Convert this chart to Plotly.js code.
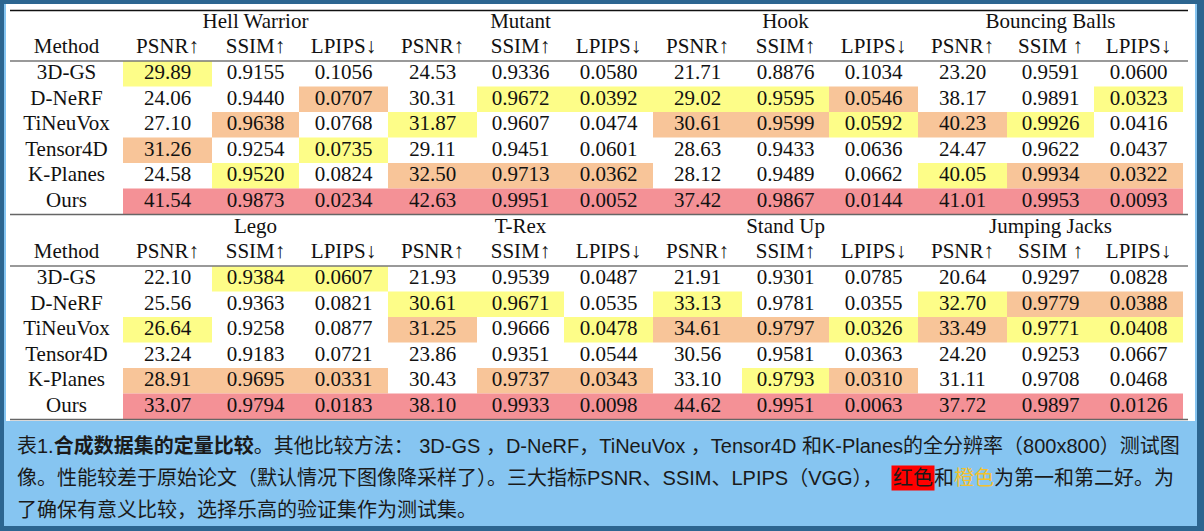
<!DOCTYPE html>
<html><head><meta charset="utf-8">
<script src="https://cdn.plot.ly/plotly-3.0.1.min.js"></script>
<style>html,body{margin:0;padding:0;background:#fff;} #chart{width:1204px;height:531px;}</style>
</head><body><div id="chart"></div>
<script>
// ---------- DATA ----------
const methods = ["3D-GS", "D-NeRF", "TiNeuVox", "Tensor4D", "K-Planes", "Ours"];
const scenesTop = ["Hell Warrior", "Mutant", "Hook", "Bouncing Balls"];
const scenesBottom = ["Lego", "T-Rex", "Stand Up", "Jumping Jacks"];
const headerTop = ["PSNR↑","SSIM↑","LPIPS↓","PSNR↑","SSIM↑","LPIPS↓","PSNR↑","SSIM↑","LPIPS↓","PSNR↑","SSIM ↑","LPIPS↓"];
const headerBottom = ["PSNR↑","SSIM↑","LPIPS↓","PSNR↑","SSIM↑","LPIPS↓","PSNR↑","SSIM↑","LPIPS↓","PSNR↑","SSIM ↑","LPIPS↓"];
const metricDecimals = [2, 4, 4];
const metricHigherBetter = [true, true, false];

const hellWarriorPSNR  = [29.89, 24.06, 27.10, 31.26, 24.58, 41.54];
const hellWarriorSSIM  = [0.9155, 0.9440, 0.9638, 0.9254, 0.9520, 0.9873];
const hellWarriorLPIPS = [0.1056, 0.0707, 0.0768, 0.0735, 0.0824, 0.0234];
const mutantPSNR  = [24.53, 30.31, 31.87, 29.11, 32.50, 42.63];
const mutantSSIM  = [0.9336, 0.9672, 0.9607, 0.9451, 0.9713, 0.9951];
const mutantLPIPS = [0.0580, 0.0392, 0.0474, 0.0601, 0.0362, 0.0052];
const hookPSNR  = [21.71, 29.02, 30.61, 28.63, 28.12, 37.42];
const hookSSIM  = [0.8876, 0.9595, 0.9599, 0.9433, 0.9489, 0.9867];
const hookLPIPS = [0.1034, 0.0546, 0.0592, 0.0636, 0.0662, 0.0144];
const ballsPSNR  = [23.20, 38.17, 40.23, 24.47, 40.05, 41.01];
const ballsSSIM  = [0.9591, 0.9891, 0.9926, 0.9622, 0.9934, 0.9953];
const ballsLPIPS = [0.0600, 0.0323, 0.0416, 0.0437, 0.0322, 0.0093];
const legoPSNR  = [22.10, 25.56, 26.64, 23.24, 28.91, 33.07];
const legoSSIM  = [0.9384, 0.9363, 0.9258, 0.9183, 0.9695, 0.9794];
const legoLPIPS = [0.0607, 0.0821, 0.0877, 0.0721, 0.0331, 0.0183];
const trexPSNR  = [21.93, 30.61, 31.25, 23.86, 30.43, 38.10];
const trexSSIM  = [0.9539, 0.9671, 0.9666, 0.9351, 0.9737, 0.9933];
const trexLPIPS = [0.0487, 0.0535, 0.0478, 0.0544, 0.0343, 0.0098];
const standUpPSNR  = [21.91, 33.13, 34.61, 30.56, 33.10, 44.62];
const standUpSSIM  = [0.9301, 0.9781, 0.9797, 0.9581, 0.9793, 0.9951];
const standUpLPIPS = [0.0785, 0.0355, 0.0326, 0.0363, 0.0310, 0.0063];
const jumpingPSNR  = [20.64, 32.70, 33.49, 24.20, 31.11, 37.72];
const jumpingSSIM  = [0.9297, 0.9779, 0.9771, 0.9253, 0.9708, 0.9897];
const jumpingLPIPS = [0.0828, 0.0388, 0.0408, 0.0667, 0.0468, 0.0126];

const columnsTop = [hellWarriorPSNR, hellWarriorSSIM, hellWarriorLPIPS, mutantPSNR, mutantSSIM, mutantLPIPS,
                    hookPSNR, hookSSIM, hookLPIPS, ballsPSNR, ballsSSIM, ballsLPIPS];
const columnsBottom = [legoPSNR, legoSSIM, legoLPIPS, trexPSNR, trexSSIM, trexLPIPS,
                       standUpPSNR, standUpSSIM, standUpLPIPS, jumpingPSNR, jumpingSSIM, jumpingLPIPS];

// ---------- STYLE / LAYOUT CONSTANTS ----------
const W = 1204, H = 531;
const rankColors = ["#f49196", "#f8c599", "#fdfd88"]; // 1st, 2nd, 3rd
const serif = "'Liberation Serif', 'Times New Roman', serif";
const capFont = "'Liberation Sans', 'Noto Sans CJK SC', sans-serif";
const TABLE_L = 10, METHOD_R = 123, TABLE_R = 1188, GROUP_W = 265;
const colOffsets = [0, 89, 176, 265];
const ROW_H = 25.5;
const blockTops = [10, 215];

function colEdges(c) {
  const g = Math.floor(c / 3), k = c % 3;
  const base = METHOD_R + g * GROUP_W;
  return [base + colOffsets[k], base + colOffsets[k + 1]];
}
function ranks(arr, higher) {
  const idx = arr.map((v, i) => i).sort((a, b) => higher ? arr[b] - arr[a] : arr[a] - arr[b]);
  const r = new Array(arr.length).fill(-1);
  idx.forEach((i, pos) => { r[i] = pos; });
  return r;
}

const shapes = [];
const traces = [];
// frame
shapes.push({type:'rect', xref:'x', yref:'y', x0:4, x1:1197, y0:4, y1:526, fillcolor:'#86c5f1', line:{width:0}, layer:'below'});
shapes.push({type:'rect', xref:'x', yref:'y', x0:6, x1:1195, y0:4, y1:421, fillcolor:'#ffffff', line:{width:0}, layer:'below'});

function buildBlock(b, scenes, header, columns) {
  const top = blockTops[b];
  const dataTop = top + 51;
  // cell fills
  columns.forEach((col, c) => {
    const m = c % 3;
    const r = ranks(col, metricHigherBetter[m]);
    const [x0, x1] = colEdges(c);
    col.forEach((v, i) => {
      if (r[i] < 3) {
        shapes.push({type:'rect', xref:'x', yref:'y', x0:x0, x1:x1,
          y0:dataTop + i * ROW_H, y1:dataTop + (i + 1) * ROW_H,
          fillcolor: rankColors[r[i]], line:{width:0}, layer:'below'});
      }
    });
  });
  // rules
  if (b === 0) shapes.push({type:'line', xref:'x', yref:'y', x0:TABLE_L, x1:TABLE_R, y0:top + 0.5, y1:top + 0.5, line:{color:'#111', width:1.3}});
  shapes.push({type:'line', xref:'x', yref:'y', x0:TABLE_L, x1:TABLE_R, y0:dataTop, y1:dataTop, line:{color:'#777', width:1.5}});
  shapes.push({type:'line', xref:'x', yref:'y', x0:TABLE_L, x1:TABLE_R, y0:dataTop + 6 * ROW_H + 0.5, y1:dataTop + 6 * ROW_H + 0.5, line:{color:'#666', width:1.5}});

  // group titles
  traces.push({type:'scatter', mode:'text', x: scenes.map((s, g) => METHOD_R + g * GROUP_W + GROUP_W / 2),
    y: scenes.map(() => top + 12.5), text: scenes, textposition:'middle center',
    textfont:{family:serif, size:21, color:'#111'}, hoverinfo:'skip', cliponaxis:false});
  // header
  const hx = [(TABLE_L + METHOD_R) / 2].concat(header.map((h, c) => { const e = colEdges(c); return (e[0] + e[1]) / 2; }));
  traces.push({type:'scatter', mode:'text', x: hx, y: hx.map(() => top + 37.8), text: ["Method"].concat(header),
    textposition:'middle center', textfont:{family:serif, size:21, color:'#111'}, hoverinfo:'skip', cliponaxis:false});
  // method names
  traces.push({type:'scatter', mode:'text', x: methods.map(() => (TABLE_L + METHOD_R) / 2),
    y: methods.map((m, i) => dataTop + (i + 0.5) * ROW_H), text: methods,
    textposition:'middle center', textfont:{family:serif, size:21, color:'#111'}, hoverinfo:'skip', cliponaxis:false});
  // values
  const vx = [], vy = [], vt = [];
  columns.forEach((col, c) => {
    const e = colEdges(c);
    col.forEach((v, i) => {
      vx.push((e[0] + e[1]) / 2);
      vy.push(dataTop + (i + 0.5) * ROW_H);
      vt.push(v.toFixed(metricDecimals[c % 3]));
    });
  });
  traces.push({type:'scatter', mode:'text', x: vx, y: vy, text: vt, textposition:'middle center',
    textfont:{family:serif, size:21, color:'#111'}, hoverinfo:'skip', cliponaxis:false});
}
buildBlock(0, scenesTop, headerTop, columnsTop);
buildBlock(1, scenesBottom, headerBottom, columnsBottom);

const capColor = '#1a1a1a';
const annotations = [
  {xref:'x', yref:'y', x:15, y:445, xanchor:'left', yanchor:'middle', showarrow:false,
   text:"表1.<b>合成数据集的定量比较</b>。其他比较方法： 3D-GS ，D-NeRF，TiNeuVox ，Tensor4D 和K-Planes的全分辨率（800x800）测试图",
   font:{family:capFont, size:20, color:capColor}},
  {xref:'x', yref:'y', x:15, y:478, xanchor:'left', yanchor:'middle', showarrow:false,
   text:"像。性能较差于原始论文（默认情况下图像降采样了）。三大指标PSNR、SSIM、LPIPS（VGG），",
   font:{family:capFont, size:20, color:capColor}},
  {xref:'x', yref:'y', x:891, y:478, xanchor:'left', yanchor:'middle', showarrow:false,
   text:"红色", bgcolor:'#ff0000', borderpad:1,
   font:{family:capFont, size:20, color:capColor}},
  {xref:'x', yref:'y', x:932, y:478, xanchor:'left', yanchor:'middle', showarrow:false,
   text:"和<span style='color:#f2c12e'>橙色</span>为第一和第二好。为",
   font:{family:capFont, size:20, color:capColor}},
  {xref:'x', yref:'y', x:15, y:510, xanchor:'left', yanchor:'middle', showarrow:false,
   text:"了确保有意义比较，选择乐高的验证集作为测试集。",
   font:{family:capFont, size:20, color:capColor}}
];

const layout = {
  width: W, height: H, margin:{l:0, r:0, t:0, b:0, pad:0},
  paper_bgcolor:'#2c6590', plot_bgcolor:'rgba(0,0,0,0)',
  xaxis:{range:[0, W], visible:false, fixedrange:true},
  yaxis:{range:[H, 0], visible:false, fixedrange:true},
  showlegend:false, shapes: shapes, annotations: annotations
};
Plotly.newPlot('chart', traces, layout, {staticPlot:true, displayModeBar:false});
</script></body></html>
